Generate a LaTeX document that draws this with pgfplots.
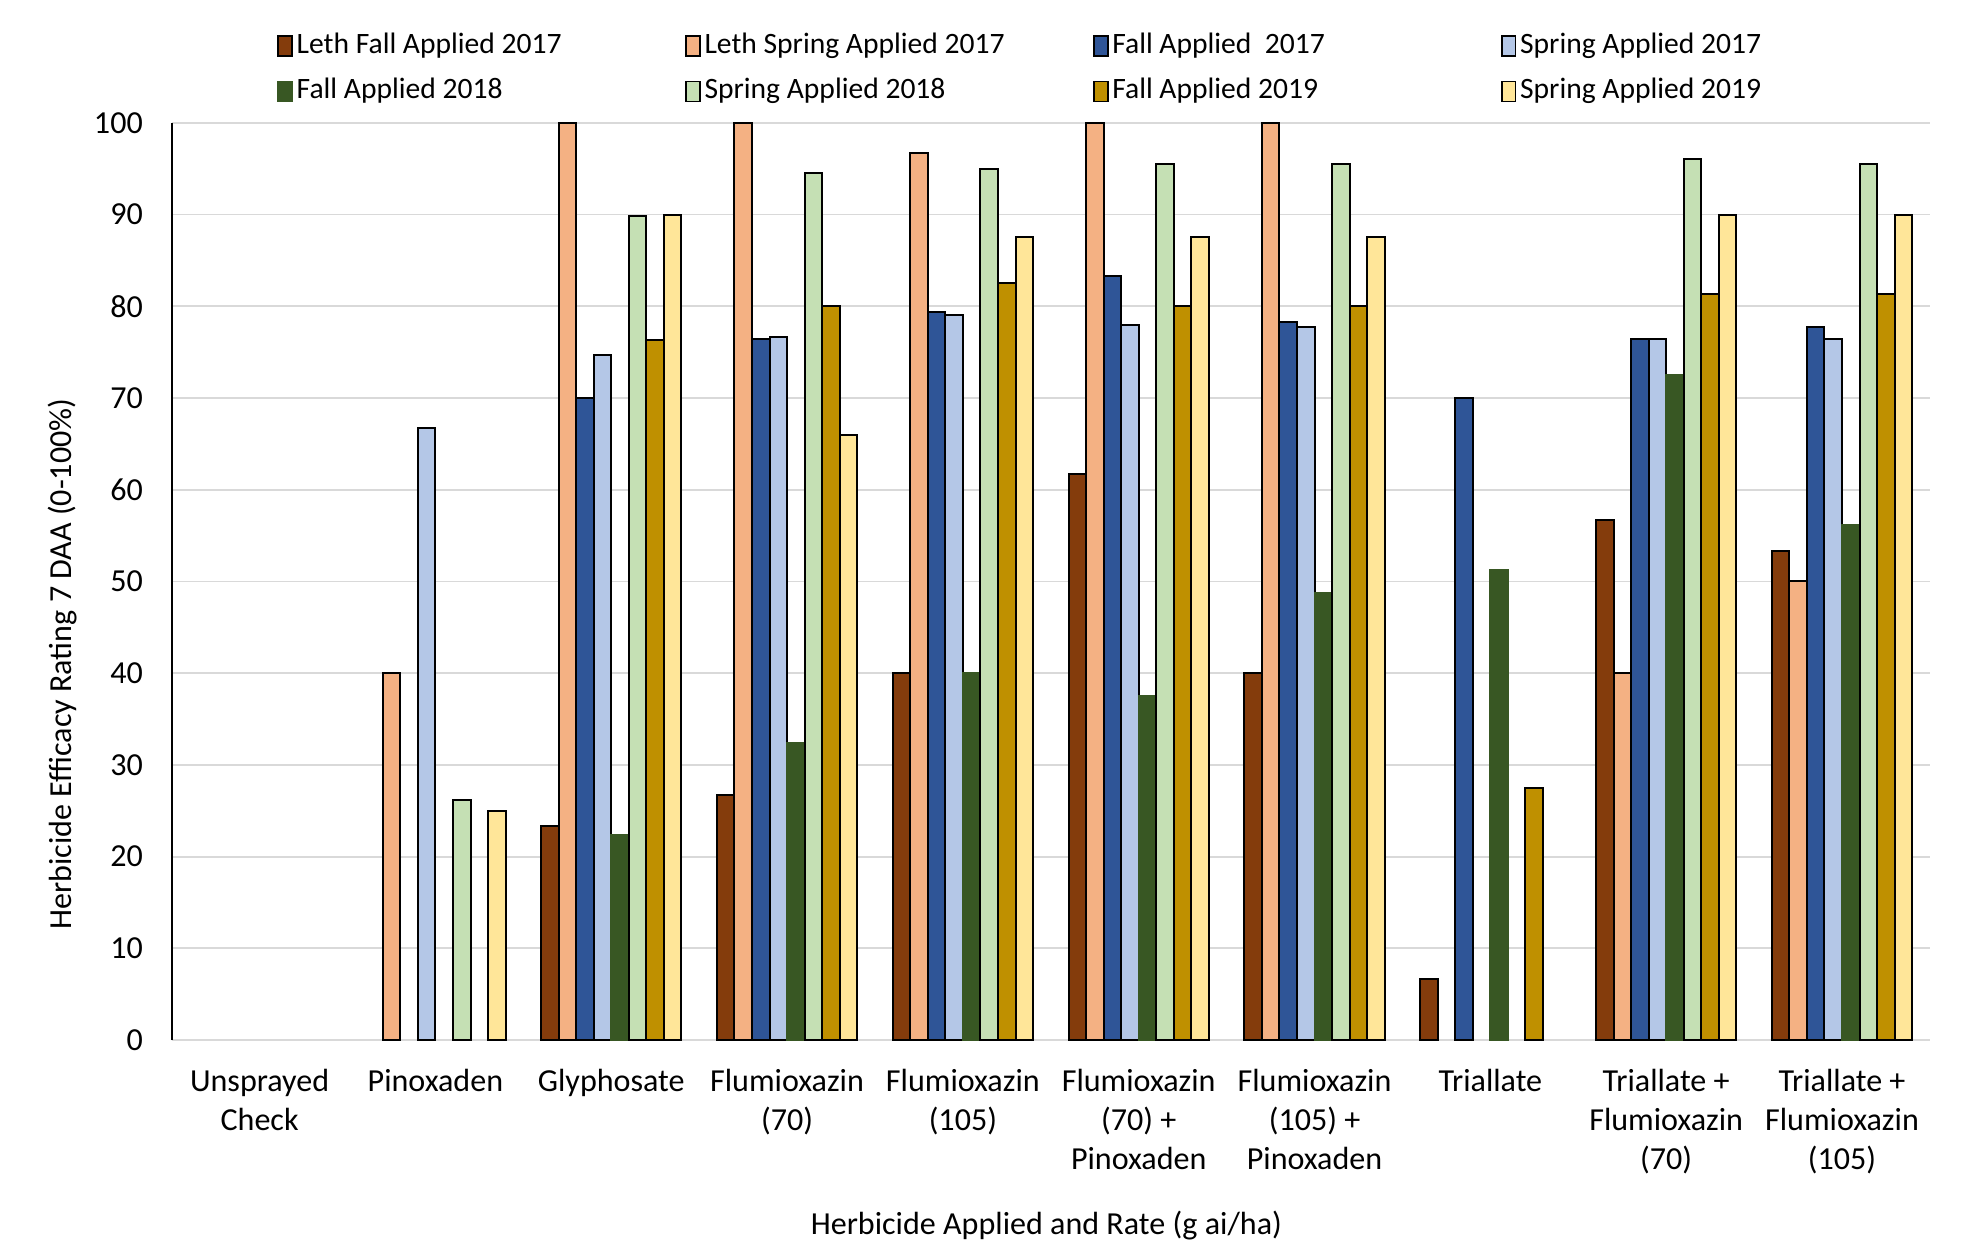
\documentclass[border=0pt]{standalone}
\usepackage{fontspec}
\setmainfont{Carlito}
\usepackage{pgfplots}
\usepackage{pgfplotstable}
\pgfplotsset{compat=1.18}
\usetikzlibrary{calc}

\definecolor{lethfall}{HTML}{843C0C}
\definecolor{lethspring}{HTML}{F4B183}
\definecolor{fallA}{HTML}{2F5597}
\definecolor{springA}{HTML}{B4C7E7}
\definecolor{fallB}{HTML}{385723}
\definecolor{springB}{HTML}{C5E0B4}
\definecolor{fallC}{HTML}{BF9000}
\definecolor{springC}{HTML}{FFE699}
\definecolor{gridgray}{HTML}{D9D9D9}

% efficacy ratings (%), one row per herbicide treatment
\pgfplotstableread{
x  LF    LS    F17   S17   F18   S18   F19   S19
0  nan   nan   nan   nan   nan   nan   nan   nan
1  nan   40    nan   66.7  nan   26.2  nan   25
2  23.3  100   70    74.7  22.4  89.8  76.3  90
3  26.7  100   76.4  76.7  32.4  94.5  80    66
4  40    96.7  79.4  79    40    95    82.5  87.5
5  61.7  100   83.3  78    37.5  95.5  80    87.5
6  40    100   78.3  77.7  48.7  95.5  80    87.5
7  6.7   nan   70    nan   51.2  nan   27.5  nan
8  56.7  40    76.4  76.4  72.5  96    81.3  90
9  53.3  50    77.7  76.4  56.2  95.5  81.3  90
}\efficacy

\newcommand{\legtext}[1]{\makebox[153.5pt][l]{#1}}

\begin{document}
\begin{tikzpicture}
\begin{axis}[
  name=ax,
  width=701.5pt, height=366pt,
  scale only axis,
  font=\fontsize{12.8}{15.5}\selectfont,
  /pgf/number format/assume math mode=true,
  ybar=0pt,
  bar width=7pt,
  xmin=-0.5, xmax=9.5,
  ymin=0, ymax=100,
  ytick={0,10,...,100},
  xtick={0,...,9},
  xticklabels={Unsprayed\\Check, Pinoxaden, Glyphosate, Flumioxazin\\(70), Flumioxazin\\(105),
    Flumioxazin\\(70) +\\Pinoxaden, Flumioxazin\\(105) +\\Pinoxaden, Triallate,
    Triallate +\\Flumioxazin\\(70), Triallate +\\Flumioxazin\\(105)},
  xticklabel style={align=center, yshift=-8pt},
  yticklabel style={xshift=-8pt},
  major tick length=0pt,
  axis x line*=bottom,
  axis y line*=left,
  x axis line style={draw=gridgray, line width=0.8pt, -},
  y axis line style={draw=black, line width=0.8pt, -},
  ymajorgrids,
  major grid style={draw=gridgray, line width=0.75pt},
  xlabel={Herbicide Applied and Rate (g ai/ha)},
  ylabel={Herbicide Efficacy Rating 7 DAA (0-100\%)},
  every axis x label/.style={at={(axis description cs:0.4975,0)}, anchor=center, inner sep=0pt, yshift=-74pt},
  every axis y label/.style={at={(axis description cs:0,0.41)}, anchor=center, rotate=90, yshift=43.5pt},
  clip=false,
  legend columns=4,
  legend style={at={(axis description cs:0.524,1)}, anchor=center, yshift=21.5pt,
    draw=none, fill=none, row sep=3pt, column sep=0pt,
    font=\fontsize{11.8}{14}\selectfont,
    nodes={inner sep=1.5pt, anchor=west, text height=9pt, text depth=3pt}},
  legend cell align=left,
  legend image code/.code={\draw[#1, line width=0.7pt] (0pt,-4pt) rectangle (5.5pt,4pt);},
  every axis plot/.append style={draw=black, line width=0.8pt},
]
\addplot[fill=lethfall] table[x=x, y=LF] {\efficacy};
\addlegendentry{\legtext{Leth Fall Applied 2017}}
\addplot[fill=lethspring] table[x=x, y=LS] {\efficacy};
\addlegendentry{\legtext{Leth Spring Applied 2017}}
\addplot[fill=fallA] table[x=x, y=F17] {\efficacy};
\addlegendentry{\legtext{Fall Applied\ \ 2017}}
\addplot[fill=springA] table[x=x, y=S17] {\efficacy};
\addlegendentry{\legtext{Spring Applied 2017}}
\addplot[fill=fallB, draw=fallB] table[x=x, y=F18] {\efficacy};
\addlegendentry{\legtext{Fall Applied 2018}}
\addplot[fill=springB] table[x=x, y=S18] {\efficacy};
\addlegendentry{\legtext{Spring Applied 2018}}
\addplot[fill=fallC] table[x=x, y=F19] {\efficacy};
\addlegendentry{\legtext{Fall Applied 2019}}
\addplot[fill=springC] table[x=x, y=S19] {\efficacy};
\addlegendentry{\legtext{Spring Applied 2019}}
\end{axis}
% page frame around the axis, labels and legend
\path (ax.south west) ++(-68.5pt,-81.5pt) rectangle ($(ax.north east)+(14pt,49pt)$);
\end{tikzpicture}
\end{document}
